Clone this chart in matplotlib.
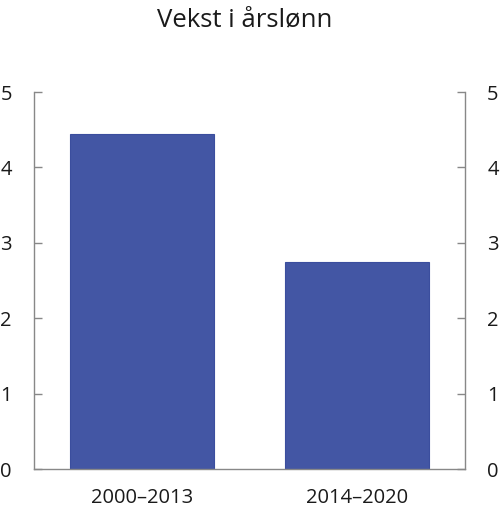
import matplotlib
matplotlib.use("Agg")
import matplotlib.pyplot as plt

# data
periods = ["2000–2013", "2014–2020"]
growth = [4.45, 2.75]
yticks = [0, 1, 2, 3, 4, 5]

plt.rcParams['font.family'] = ['Open Sans', 'DejaVu Sans']

fig = plt.figure(figsize=(5, 5.2), dpi=100)
ax = fig.add_axes([0.068, 0.098, 0.862, 0.725])

x = range(len(periods))
ax.bar(x, growth, width=0.67, color='#4356a4', edgecolor='#3b4e9e', linewidth=0.8, zorder=2)

ax.set_xlim(-0.5, 1.5)
ax.set_ylim(0, 5)
ax.set_xticks(list(x))
ax.set_xticklabels(periods, fontsize=14.5, color='#1a1a1a')
ax.set_yticks(yticks)
ax.set_yticklabels([str(t) for t in yticks], fontsize=14.5, color='#1a1a1a')

ax.tick_params(axis='x', length=0, pad=14)
ax.tick_params(axis='y', which='both', direction='in', length=6, width=1, color='#888888',
               left=True, right=True, labelleft=True, labelright=True, pad=16)

for side in ['left', 'right', 'bottom']:
    ax.spines[side].set_color('#888888')
    ax.spines[side].set_linewidth(1)
ax.spines['top'].set_visible(False)

fig.text(0.49, 0.962, "Vekst i årslønn", ha='center', va='center', fontsize=18.5, color='#1a1a1a')

fig.savefig("out.png", dpi=100)
